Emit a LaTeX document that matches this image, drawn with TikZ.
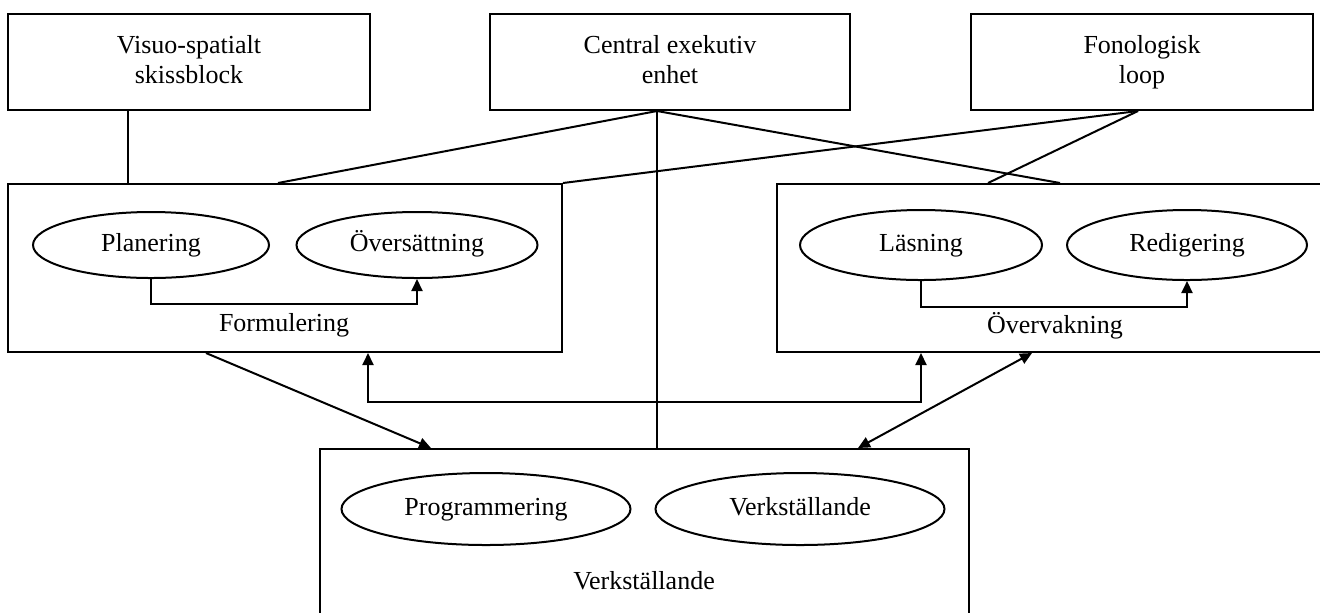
\documentclass[tikz,border=0pt]{standalone}
\usepackage{fontspec}
\setmainfont{Liberation Serif}
\usetikzlibrary{shapes.geometric,arrows.meta}
\begin{document}
\begin{tikzpicture}[x=0.5pt,y=-0.5pt,line width=1pt,
	box/.style={draw,rectangle,inner sep=0pt,align=center,text depth=3pt},
	oval/.style={draw,ellipse,inner sep=0pt,text height=9pt,text depth=3pt},
	tip/.style={-{Triangle[length=6pt,width=5.5pt]}},
	tips/.style={{Triangle[length=6pt,width=5.5pt]}-{Triangle[length=6pt,width=5.5pt]}},
	font=\fontsize{13pt}{15pt}\selectfont]
\useasboundingbox (0,0) rectangle (1320,612);
% top row
\node[box,minimum width=181pt,minimum height=48pt] (visuo) at (189,62) {Visuo-spatialt\\skissblock};
\node[box,minimum width=180pt,minimum height=48pt] (central) at (670,62) {Central exekutiv\\enhet};
\node[box,minimum width=171pt,minimum height=48pt] (fono) at (1142,62) {Fonologisk\\loop};
% middle row
\node[box,minimum width=277pt,minimum height=84pt] (form) at (285,268) {};
\node[box,minimum width=274pt,minimum height=84pt] (overv) at (1051,268) {};
\node[oval,minimum width=118pt,minimum height=33pt] (plan) at (151,245) {Planering};
\node[oval,minimum width=120.5pt,minimum height=33pt] (overs) at (417,245) {Översättning};
\node[oval,minimum width=121pt,minimum height=35pt] (las) at (921,245) {Läsning};
\node[oval,minimum width=120pt,minimum height=35pt] (redig) at (1187,245) {Redigering};
\node (formlbl) at (284,325) {Formulering};
\node (overvlbl) at (1055,326) {Övervakning};
% bottom
\node[box,minimum width=324.5pt,minimum height=85.5pt] (verk) at (644.5,534.5) {};
\node[oval,minimum width=144.5pt,minimum height=36pt] (prog) at (486,509) {Programmering};
\node[oval,minimum width=144.5pt,minimum height=36pt] (verkst) at (800,509) {Verkställande};
\node (verklbl) at (644,581) {Verkställande};

\coordinate (cj) at ([xshift=-6.5pt]central.south);
\coordinate (fj) at ([xshift=-2pt]fono.south);

\draw ([xshift=-30.5pt]visuo.south) -- ([xshift=-30.5pt]visuo.south |- form.north);
\draw (cj) -- ([xshift=-3.5pt]form.north);
\draw (cj) -- (cj |- verk.north);
\draw (cj) -- ([xshift=4.5pt]overv.north);
\draw (fj) -- (form.north east);
\draw (fj) -- ([xshift=-31.5pt]overv.north);

\draw[tip] (plan.south) -- ++(0,-12.5pt) -| (overs.south);
\draw[tip] (las.south) -- ++(0,-13pt) -| (redig.south);

\draw[tip] ([xshift=-39.5pt]form.south) -- ([xshift=-106.75pt]verk.north);
\draw[tips] ([xshift=-9.5pt]overv.south) -- ([xshift=106.75pt]verk.north);
\draw[tips] ([xshift=41.5pt]form.south) -- ++(0,-24.5pt) -| (las |- overv.south);
\end{tikzpicture}
\end{document}
